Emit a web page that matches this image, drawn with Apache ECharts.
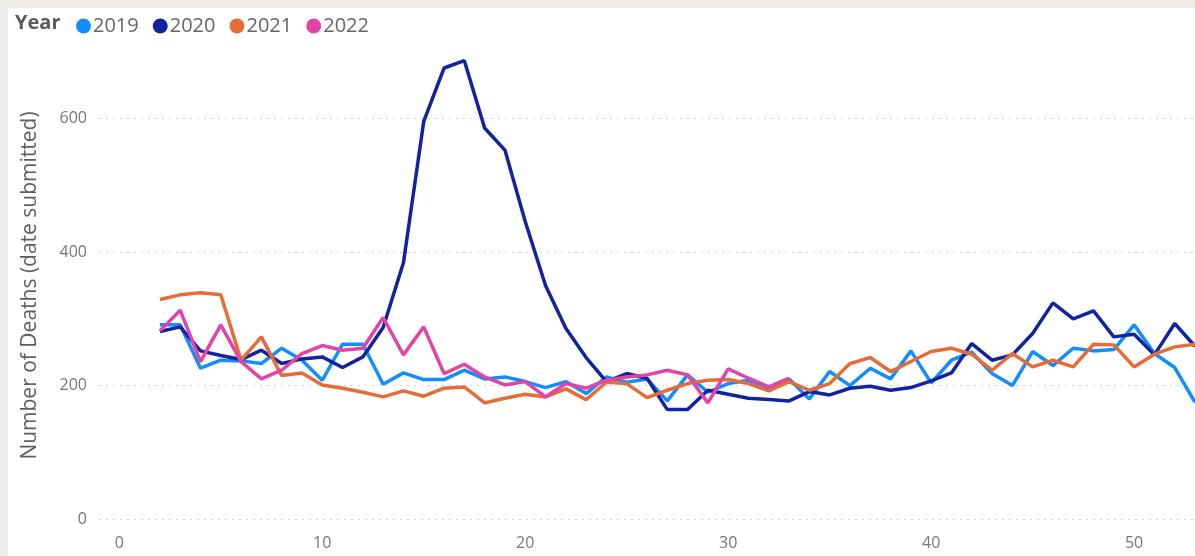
<!DOCTYPE html>
<html>
<head>
<meta charset="utf-8">
<script src="https://cdn.jsdelivr.net/npm/echarts@6/dist/echarts.min.js"></script>
<style>
html,body{margin:0;padding:0;background:#efebe7;}
#wrap{position:relative;width:1195px;height:556px;background:#efebe7;overflow:hidden;}
#card{position:absolute;left:8px;top:8px;right:0;bottom:0;background:#ffffff;}
#chart{position:absolute;left:0;top:0;width:1195px;height:556px;}
</style>
</head>
<body>
<div id="wrap"><div id="card"></div><div id="chart"></div></div>
<script>
const weeks = [2,3,4,5,6,7,8,9,10,11,12,13,14,15,16,17,18,19,20,21,22,23,24,25,26,27,28,29,30,31,32,33,34,35,36,37,38,39,40,41,42,43,44,45,46,47,48,49,50,51,52,53];
const years = ['2019','2020','2021','2022'];
const deaths2019 = [291,291,226,238,237,233,256,238,208,262,262,202,219,209,209,223,210,213,206,197,206,188,213,205,210,177,216,190,203,208,195,210,180,221,200,226,210,252,204,238,250,218,200,251,230,256,252,254,291,248,227,175];
const deaths2020 = [281,288,252,245,239,253,233,240,243,227,243,287,384,596,676,687,586,553,446,350,286,242,206,218,211,164,164,193,187,181,179,177,191,186,196,199,193,197,207,219,263,238,246,278,324,300,312,273,277,246,293,259];
const deaths2021 = [329,336,339,336,238,273,215,219,201,196,190,183,192,184,196,198,174,181,187,183,195,179,205,203,182,193,203,208,209,203,192,206,193,203,233,242,221,236,251,256,247,223,248,228,238,228,262,261,228,247,258,262];
const deaths2022 = [282,313,236,291,236,210,223,248,260,253,256,302,246,288,218,232,213,201,206,183,203,196,208,213,216,223,216,174,225,211,198,211];
const xTicks = [0,10,20,30,40,50];
const yTicks = [0,200,400,600];
const colors = ['#118DFF','#12239E','#E66C37','#E044A7'];

function pairs(vals){ return weeks.slice(0, vals.length).map((w,i)=>[w, vals[i]]); }
const allVals = [deaths2019, deaths2020, deaths2021, deaths2022];

const chart = echarts.init(document.getElementById('chart'), null, {renderer:'canvas'});
const FONT = "'Segoe UI','Open Sans','Noto Sans',sans-serif";
chart.setOption({
  animation:false,
  backgroundColor:'transparent',
  textStyle:{fontFamily:FONT},
  graphic:[{type:'text', left:15, top:13, style:{text:'Year', font:"bold 20px "+FONT, fill:'#5a5a5a'}}],
  legend:{
    left:71, top:11, icon:'circle', itemWidth:15, itemHeight:15, itemGap:14,
    textStyle:{fontSize:20, color:'#666666', fontFamily:FONT, padding:[0,0,0,-3]},
    data:years
  },
  grid:{left:99, right:-6, top:52, bottom:37, containLabel:false},
  xAxis:{
    type:'value', min:-1, max:53,
    axisLine:{show:false}, axisTick:{show:false}, splitLine:{show:false},
    axisLabel:{customValues:xTicks, color:'#777777', fontSize:16, margin:16, fontFamily:FONT}
  },
  yAxis:{
    type:'value', min:0, max:700, interval:200,
    name:'Number of Deaths (date submitted)', nameLocation:'middle', nameGap:58,
    nameTextStyle:{color:'#5f5f5f', fontSize:21, fontFamily:FONT},
    axisLine:{show:false}, axisTick:{show:false},
    axisLabel:{color:'#777777', fontSize:16, margin:12, showMaxLabel:false, fontFamily:FONT,
      formatter:v=> yTicks.includes(v) ? String(v) : ''},
    splitLine:{show:true, lineStyle:{type:[2,5], width:1, color:['#cfcfcf','#cfcfcf','#cfcfcf','#cfcfcf','rgba(0,0,0,0)']}}
  },
  series: years.map((y,i)=>({
    name:y, type:'line', data:pairs(allVals[i]), showSymbol:false, symbol:'circle', smooth:false,
    color:colors[i], lineStyle:{width:3.5, color:colors[i]}, itemStyle:{color:colors[i]}
  }))
});
</script>
</body>
</html>
